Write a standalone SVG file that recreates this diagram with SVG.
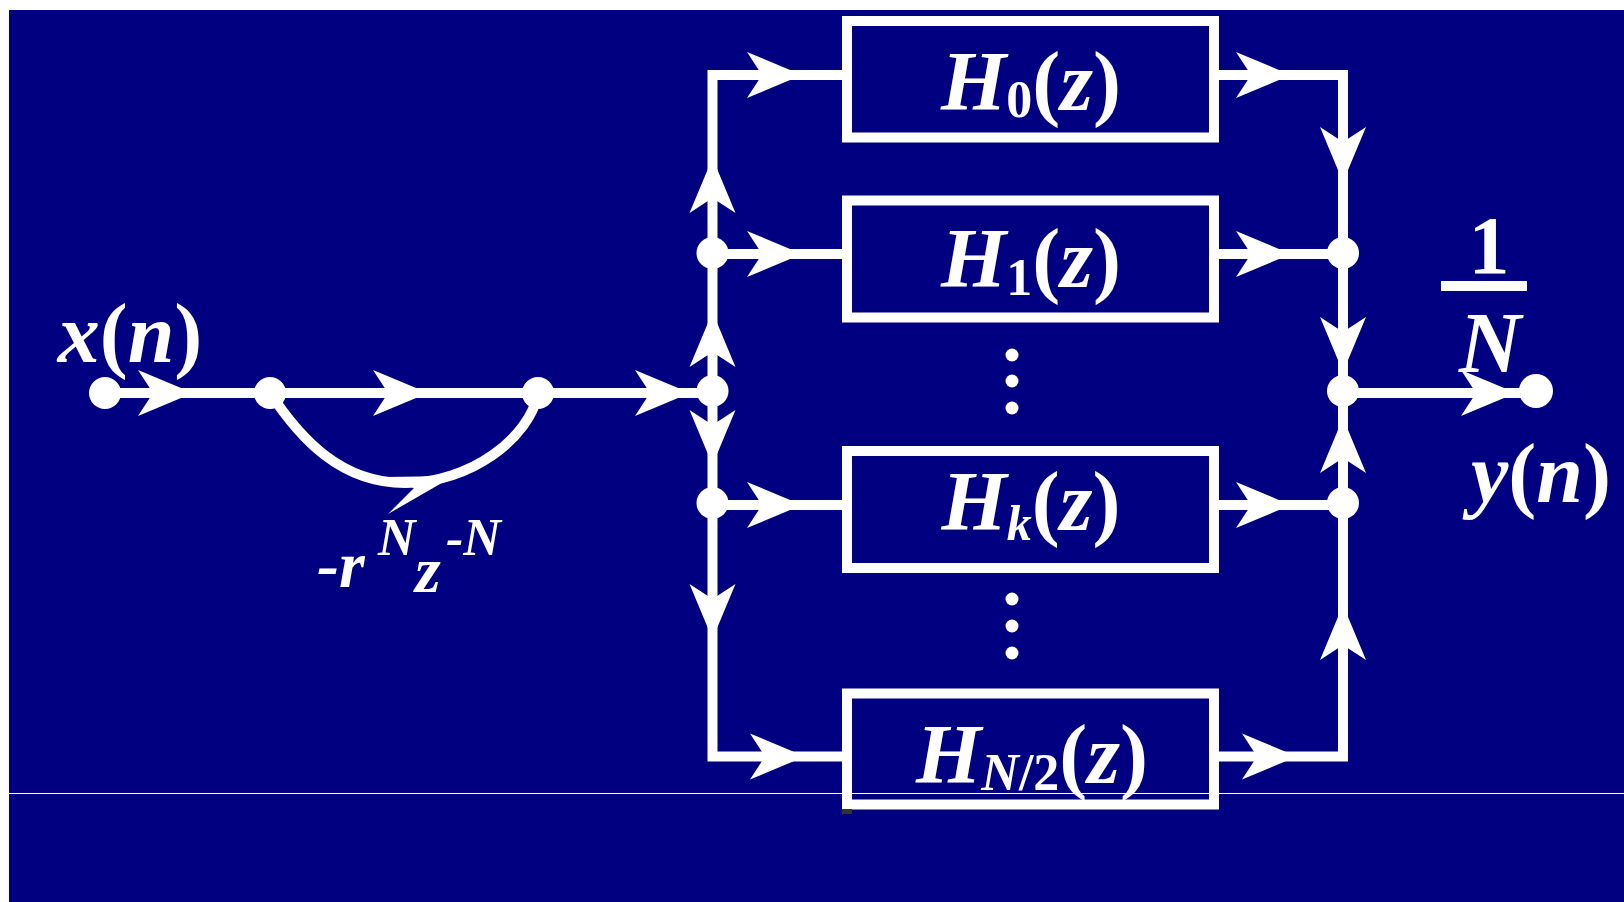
<svg xmlns="http://www.w3.org/2000/svg" xmlns:xlink="http://www.w3.org/1999/xlink" width="1624" height="902" viewBox="0 0 1624 902">
  <style>
    .ln { stroke: #fff; stroke-width: 10; fill: none; stroke-linejoin: miter; }
    .box { stroke: #fff; stroke-width: 10; fill: none; }
    .dot { fill: #fff; }
    .m { font-family: "Liberation Serif", "Times New Roman", serif; font-weight: bold; font-style: italic; fill: #fff; }
    .up { font-style: normal; }
  </style>
  <defs>
    <!-- arrowhead pointing right, tip at the origin -->
    <path id="ah" d="M0 0 L-55 -23 L-40 0 L-55 23 Z" fill="#fff"/>
  </defs>

  <!-- page -->
  <rect x="0" y="0" width="1624" height="902" fill="#fff"/>
  <rect x="9" y="10" width="1615" height="892" fill="#000080"/>

  <!-- connectors -->
  <g id="connectors">
    <path class="ln" d="M105 393 H712.5"/>
    <path class="ln" d="M270 393 C300 438 340 483 405 483 C470 483 530 438 538 393" stroke-width="8"/>
    <path class="ln" d="M842 75 H712.5 V756.5 H842"/>
    <path class="ln" d="M712.5 254 H842"/>
    <path class="ln" d="M712.5 505 H842"/>
    <path class="ln" d="M1219 75 H1343 V756.5 H1219"/>
    <path class="ln" d="M1219 254 H1343"/>
    <path class="ln" d="M1219 505 H1343"/>
    <path class="ln" d="M1343 393 H1536"/>

    <!-- arrowheads -->
    <use xlink:href="#ah" transform="translate(193 393)"/>
    <use xlink:href="#ah" transform="translate(428 393)"/>
    <use xlink:href="#ah" transform="translate(690 393)"/>
    <polygon points="454,476 384,477 414,488 388,514" fill="#fff"/>
    <use xlink:href="#ah" transform="translate(802 75)"/>
    <use xlink:href="#ah" transform="translate(802 254)"/>
    <use xlink:href="#ah" transform="translate(802 505)"/>
    <use xlink:href="#ah" transform="translate(805 756.5)"/>
    <use xlink:href="#ah" transform="translate(1291 75)"/>
    <use xlink:href="#ah" transform="translate(1291 254)"/>
    <use xlink:href="#ah" transform="translate(1291 505)"/>
    <use xlink:href="#ah" transform="translate(1297 756.5)"/>
    <use xlink:href="#ah" transform="translate(1516 393)"/>
    <use xlink:href="#ah" transform="translate(712.5 158) rotate(-90)"/>
    <use xlink:href="#ah" transform="translate(712.5 312) rotate(-90)"/>
    <use xlink:href="#ah" transform="translate(712.5 465) rotate(90)"/>
    <use xlink:href="#ah" transform="translate(712.5 639) rotate(90)"/>
    <use xlink:href="#ah" transform="translate(1343 182) rotate(90)"/>
    <use xlink:href="#ah" transform="translate(1343 372) rotate(90)"/>
    <use xlink:href="#ah" transform="translate(1343 418) rotate(-90)"/>
    <use xlink:href="#ah" transform="translate(1343 605) rotate(-90)"/>
  </g>

  <!-- input node and label -->
  <g id="input">
    <circle class="dot" cx="105" cy="393" r="16"/>
    <text class="m" x="130" y="362" font-size="84" text-anchor="middle">x<tspan class="up">(</tspan>n<tspan class="up">)</tspan></text>
  </g>

  <!-- comb section nodes and gain label -->
  <g id="comb">
    <circle class="dot" cx="270" cy="393" r="16"/>
    <circle class="dot" cx="538" cy="393" r="16"/>
    <text class="m" font-size="66"><tspan x="317" y="587">-r</tspan><tspan x="378" y="555" font-size="52">N</tspan><tspan x="415" y="592">z</tspan><tspan x="446" y="555" font-size="52">-N</tspan></text>
  </g>

  <!-- splitting and summing junctions -->
  <g id="junctions">
    <circle class="dot" cx="712.5" cy="253" r="16"/>
    <circle class="dot" cx="712.5" cy="391" r="16"/>
    <circle class="dot" cx="712.5" cy="503" r="16"/>
    <circle class="dot" cx="1343" cy="253" r="16"/>
    <circle class="dot" cx="1343" cy="391" r="16"/>
    <circle class="dot" cx="1343" cy="503" r="16"/>
  </g>

  <!-- resonator blocks -->
  <g id="H0">
    <rect class="box" x="847" y="21" width="367" height="116.5"/>
    <text class="m" x="1031" y="110" font-size="84" text-anchor="middle">H<tspan class="up" font-size="52" dy="7">0</tspan><tspan class="up" dy="-7">(</tspan>z<tspan class="up">)</tspan></text>
  </g>
  <g id="H1">
    <rect class="box" x="847" y="200.5" width="367" height="117"/>
    <text class="m" x="1031" y="287" font-size="84" text-anchor="middle">H<tspan class="up" font-size="52" dy="8">1</tspan><tspan class="up" dy="-8">(</tspan>z<tspan class="up">)</tspan></text>
  </g>
  <g id="ellipsis1">
    <circle class="dot" cx="1012" cy="355" r="6.5"/>
    <circle class="dot" cx="1012" cy="381" r="6.5"/>
    <circle class="dot" cx="1012" cy="408" r="6.5"/>
  </g>
  <g id="Hk">
    <rect class="box" x="847" y="451" width="367" height="117"/>
    <text class="m" x="1031" y="530" font-size="84" text-anchor="middle">H<tspan font-size="50" dy="10">k</tspan><tspan class="up" dy="-10">(</tspan>z<tspan class="up">)</tspan></text>
  </g>
  <g id="ellipsis2">
    <circle class="dot" cx="1012" cy="599" r="6.5"/>
    <circle class="dot" cx="1012" cy="626" r="6.5"/>
    <circle class="dot" cx="1012" cy="653" r="6.5"/>
  </g>
  <g id="HN2">
    <rect class="box" x="847" y="693.5" width="367" height="111"/>
    <rect x="842" y="809" width="10" height="5" fill="#333"/>
    <text class="m" x="1032" y="783" font-size="84" text-anchor="middle">H<tspan font-size="52" dy="7">N<tspan class="up">/2</tspan></tspan><tspan class="up" dy="-7">(</tspan>z<tspan class="up">)</tspan></text>
  </g>

  <!-- output gain and node -->
  <g id="output">
    <text class="m up" x="1489" y="273" font-size="82" text-anchor="middle">1</text>
    <rect x="1441" y="281" width="86" height="10" fill="#fff"/>
    <text class="m" x="1490" y="372" font-size="86" text-anchor="middle">N</text>
    <circle class="dot" cx="1536" cy="391" r="17"/>
    <text class="m" x="1541" y="502" font-size="84" text-anchor="middle">y<tspan class="up">(</tspan>n<tspan class="up">)</tspan></text>
  </g>

  <!-- hairline across the lower part -->
  <line x1="9" y1="793.5" x2="1624" y2="793.5" stroke="#fff" stroke-width="1"/>
</svg>
